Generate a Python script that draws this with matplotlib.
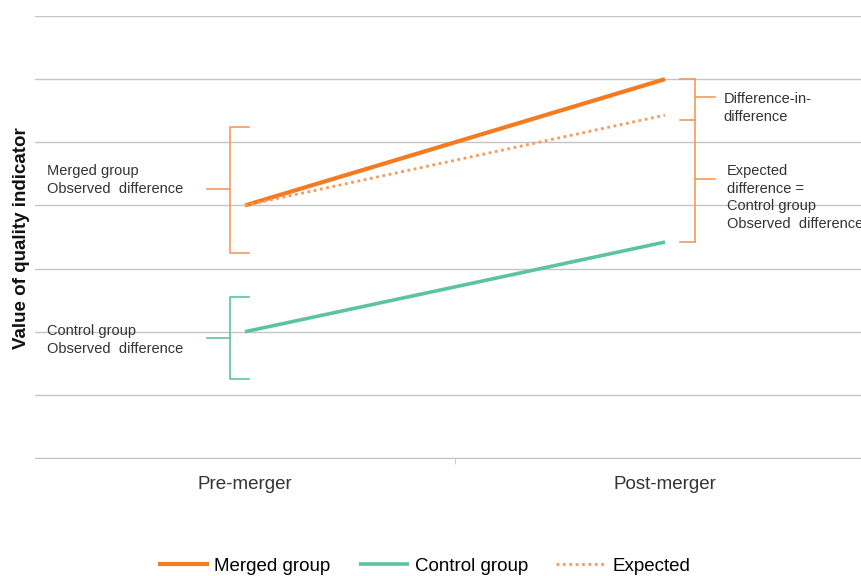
import matplotlib.pyplot as plt
import numpy as np

plt.rcParams['font.family'] = ['Liberation Sans', 'DejaVu Sans']

# ====================== DATA ======================
periods = ['Pre-merger', 'Post-merger']
merged = [4.0, 6.0]
control = [2.0, 3.42]
expected = [4.0, 5.43]

# brace spans (value of quality indicator)
merged_brace = [3.25, 5.25]
control_brace = [1.25, 2.55]

ORANGE = '#f47b20'
ORANGE_LIGHT = '#f59a5c'
GREEN = '#5cc3a2'
GRID = '#c4c4c4'
TXT = '#333333'

fig = plt.figure(figsize=(8.62, 5.76), dpi=100)
ax = fig.add_axes([35 / 862, 1 - 458 / 576, 840 / 862, 442 / 576])

x = np.arange(len(periods))
ax.plot(x, merged, color=ORANGE, linewidth=3, label='Merged group', solid_capstyle='butt')
ax.plot(x, control, color=GREEN, linewidth=2.6, label='Control group', solid_capstyle='butt')
ax.plot(x, expected, color=ORANGE_LIGHT, linewidth=2, linestyle=(0, (1, 1.3)), label='Expected')

ax.set_xlim(-0.5, 1.5)
ax.set_ylim(0, 7)
ax.set_yticks(np.arange(0, 8))
ax.yaxis.grid(True, color=GRID, linewidth=1)
ax.set_axisbelow(True)
ax.tick_params(axis='y', length=0, labelleft=False)
ax.set_xticks(x)
ax.set_xticklabels(periods, fontsize=13.5, color=TXT)
ax.tick_params(axis='x', length=0, pad=13)
ax.set_xticks([0.5], minor=True)
ax.tick_params(axis='x', which='minor', length=4, color=GRID)
for s in ['top', 'right', 'left']:
    ax.spines[s].set_visible(False)
ax.spines['bottom'].set_color(GRID)

fig.text(22 / 862, 1 - 238 / 576, 'Value of quality indicator', rotation=90,
         ha='center', va='center', fontsize=13.5, fontweight='bold', color='#111111')


def brace(ax, xv, lo, hi, mid, side, color):
    # side=-1: nib points left, serifs right; side=+1 the other way
    serif = 0.045
    nib = 0.055
    ax.plot([xv - side * serif, xv, xv, xv - side * serif], [hi, hi, lo, lo],
            color=color, linewidth=1.2, clip_on=False)
    ax.plot([xv, xv + side * nib], [mid, mid], color=color, linewidth=1.2, clip_on=False)


# left braces
brace(ax, -0.036, merged_brace[0], merged_brace[1], 4.26, -1, ORANGE_LIGHT)
brace(ax, -0.036, control_brace[0], control_brace[1], 1.9, -1, GREEN)
ax.text(-0.471, 4.4, 'Merged group\nObserved  difference', fontsize=10.5, color=TXT,
        va='center', ha='left', linespacing=1.35)
ax.text(-0.471, 1.87, 'Control group\nObserved  difference', fontsize=10.5, color=TXT,
        va='center', ha='left', linespacing=1.35)

# right braces
did_mid = (merged[1] + expected[1]) / 2
exp_mid = (expected[1] + control[1]) / 2
ax.plot([1.036, 1.071], [merged[1], merged[1]], color=ORANGE_LIGHT, linewidth=1.2, clip_on=False)
ax.plot([1.071, 1.071], [merged[1], control[1]], color=ORANGE_LIGHT, linewidth=1.2, clip_on=False)
ax.plot([1.036, 1.071], [control[1], control[1]], color=ORANGE_LIGHT, linewidth=1.2, clip_on=False)
ax.plot([1.036, 1.071], [expected[1] - 0.07, expected[1] - 0.07], color=ORANGE_LIGHT, linewidth=1.2, clip_on=False)
ax.plot([1.071, 1.12], [did_mid, did_mid], color=ORANGE_LIGHT, linewidth=1.2, clip_on=False)
ax.plot([1.071, 1.12], [exp_mid, exp_mid], color=ORANGE_LIGHT, linewidth=1.2, clip_on=False)
ax.text(1.14, did_mid - 0.17, 'Difference-in-\ndifference', fontsize=10.5, color=TXT,
        va='center', ha='left', linespacing=1.35)
ax.text(1.148, exp_mid - 0.3, 'Expected\ndifference =\nControl group\nObserved  difference',
        fontsize=10.5, color=TXT, va='center', ha='left', linespacing=1.35)

fig.legend(loc='center', bbox_to_anchor=(0.492, 1 - 566 / 576), ncol=3, frameon=False,
           fontsize=13.5, handlelength=2.7, columnspacing=1.5, handletextpad=0.3)

plt.savefig('out.png', dpi=100)
